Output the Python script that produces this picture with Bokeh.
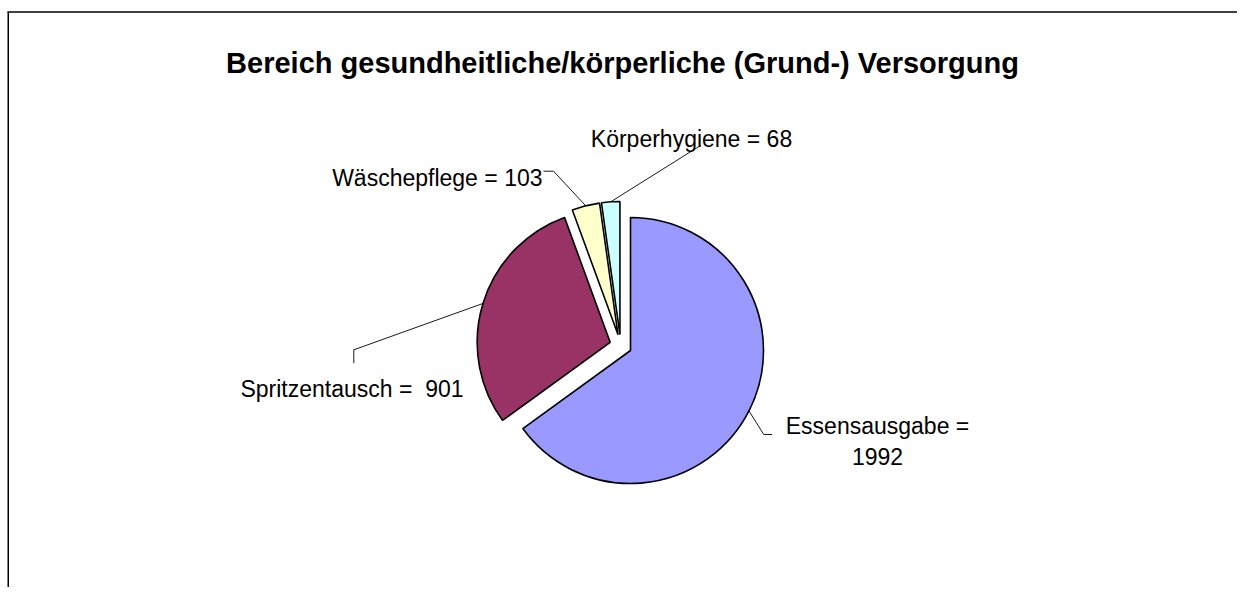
import math
from bokeh.plotting import figure
from bokeh.models import Range1d, ColumnDataSource
from bokeh.core.properties import value
from bokeh.embed import file_html
from bokeh.resources import INLINE

# ---- data ----
title_text = "Bereich gesundheitliche/körperliche (Grund-) Versorgung"
categories = ["Essensausgabe", "Spritzentausch", "Wäschepflege", "Körperhygiene"]
values = [1992, 901, 103, 68]
separators = [" =", " =\u00a0 ", " = ", " = "]
colors = ["#9999FF", "#993366", "#FFFFCC", "#CCFFFF"]

# ---- layout (pixel-like data space) ----
W, H = 1237, 587


def px(x):
    return x


def py(y):
    return H - y


p = figure(width=W, height=H, output_backend="svg", toolbar_location=None,
           x_range=Range1d(0, W), y_range=Range1d(0, H), min_border=0)
p.axis.visible = False
p.grid.visible = False
p.outline_line_color = None
p.background_fill_color = "white"
p.border_fill_color = "white"

# chart border (clipped at right/bottom like the reference)
p.line([7.75, 7.75], [0, py(11.5)], line_color="black", line_width=1.5)
p.line([7, W], [py(11.5), py(11.5)], line_color="black", line_width=1.5)

cx, cy = px(620.2), py(345)
R = 133
EXPLODE = 11

total = sum(values)
cum = 0.0
starts, ends, xs, ys, mids = [], [], [], [], []
for v in values:
    a_end = math.radians(90 - cum / total * 360)
    cum += v
    a_start = math.radians(90 - cum / total * 360)
    mid = (a_start + a_end) / 2
    starts.append(a_start)
    ends.append(a_end)
    mids.append(mid)
    xs.append(cx + EXPLODE * math.cos(mid))
    ys.append(cy + EXPLODE * math.sin(mid))

src = ColumnDataSource(dict(x=xs, y=ys, start=starts, end=ends, color=colors))
p.wedge(x="x", y="y", radius=R, start_angle="start", end_angle="end",
        direction="anticlock", fill_color="color", line_color="black",
        line_width=1.6, source=src)

# leader lines
leader_ends = [
    [(763.3, 434), (771.7, 434)],
    [(353.3, 349.3), (353.3, 362.7)],
    [(553, 170.7), (543, 170.7)],
    [(700, 145)],
]
for i, pts in enumerate(leader_ends):
    ox = xs[i] + R * math.cos(mids[i])
    oy = ys[i] + R * math.sin(mids[i])
    lx = [ox] + [px(a) for a, b in pts]
    ly = [oy] + [py(b) for a, b in pts]
    p.line(lx, ly, line_color="black", line_width=0.9)

font = value("Liberation Sans")
# title
p.text(x=[px(622)], y=[py(62.3)], text=[title_text], text_font=font,
       text_font_size="29px", text_font_style="bold", text_align="center",
       text_baseline="alphabetic", text_color="black")

# labels
lab_x, lab_y, lab_t, lab_align = [], [], [], []
# Essensausgabe (two lines)
lab_x += [px(877), px(877)]
lab_y += [py(425), py(456)]
lab_t += [categories[0] + separators[0], str(values[0])]
lab_align += ["center", "center"]
# Spritzentausch
lab_x.append(px(351.5)); lab_y.append(py(388.3))
lab_t.append(categories[1] + separators[1] + str(values[1])); lab_align.append("center")
# Wäschepflege
lab_x.append(px(542)); lab_y.append(py(177.3))
lab_t.append(categories[2] + separators[2] + str(values[2])); lab_align.append("right")
# Körperhygiene
lab_x.append(px(691)); lab_y.append(py(138.3))
lab_t.append(categories[3] + separators[3] + str(values[3])); lab_align.append("center")

lsrc = ColumnDataSource(dict(x=lab_x, y=lab_y, t=lab_t, a=lab_align))
p.text(x="x", y="y", text="t", text_align="a", source=lsrc, text_font=font,
       text_font_size="23px", text_baseline="alphabetic", text_color="black")

open("out.html", "w").write(file_html(p, INLINE))
